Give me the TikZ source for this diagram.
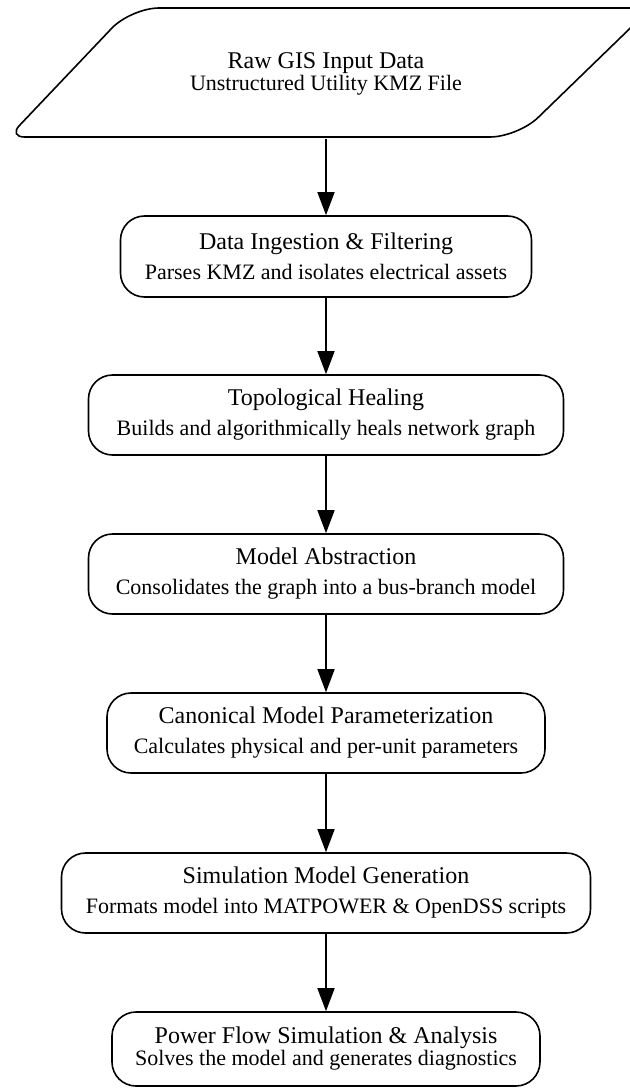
\documentclass[tikz,border=0pt]{standalone}
\usepackage{fontspec}
\setmainfont{Liberation Serif}
\usetikzlibrary{arrows.meta}

\begin{document}
\begin{tikzpicture}[x=1pt,y=-1pt,
  stage/.style={draw, line width=1.6pt, rounded corners=24pt, align=center,
                inner sep=0pt, font=\fontsize{24}{30}\selectfont},
  tight/.style={font=\fontsize{24}{22}\selectfont},
  flow/.style={-{Triangle[length=23pt,width=17pt]}, line width=1.6pt},
]
\useasboundingbox (0,0) rectangle (629,1089);

% input data parallelogram
\coordinate (bl) at (8.5,137);
\coordinate (tl) at (131,8);
\coordinate (tr) at (651,8);
\coordinate (br) at (518,137);
\draw[line width=1.6pt] (300,137) [rounded corners=28pt] -- (br)
  [rounded corners=18pt] -- (tr) [rounded corners=28pt] -- (tl)
  [rounded corners=16pt] -- (bl) -- cycle;
\node[align=center, inner sep=0pt, minimum width=400pt, minimum height=129pt, tight]
  (raw) at (326,74)
  {Raw GIS Input Data\\{\fontsize{22}{22}\selectfont Unstructured Utility KMZ File}};

% processing stages
\node[stage, minimum width=411pt, minimum height=81pt] (ingest) at (326,256.5)
  {Data Ingestion \& Filtering\\{\fontsize{22}{30}\selectfont Parses KMZ and isolates electrical assets}};
\node[stage, minimum width=475pt, minimum height=80pt] (heal) at (326,415)
  {Topological Healing\\{\fontsize{22}{30}\selectfont Builds and algorithmically heals network graph}};
\node[stage, minimum width=475pt, minimum height=80pt] (abstr) at (326,574)
  {Model Abstraction\\{\fontsize{22}{30}\selectfont Consolidates the graph into a bus-branch model}};
\node[stage, minimum width=438pt, minimum height=80pt] (param) at (326,733)
  {Canonical Model Parameterization\\{\fontsize{22}{30}\selectfont Calculates physical and per-unit parameters}};
\node[stage, minimum width=529pt, minimum height=80pt] (gen) at (326,893)
  {Simulation Model Generation\\{\fontsize{22}{30}\selectfont Formats model into MATPOWER \& OpenDSS scripts}};
\node[stage, tight, minimum width=428pt, minimum height=74pt] (solve) at (326,1049)
  {Power Flow Simulation \& Analysis\\{\fontsize{22}{22}\selectfont Solves the model and generates diagnostics}};

% connectors
\draw[flow] (raw) -- (ingest);
\draw[flow] (ingest) -- (heal);
\draw[flow] (heal) -- (abstr);
\draw[flow] (abstr) -- (param);
\draw[flow] (param) -- (gen);
\draw[flow] (gen) -- (solve);
\end{tikzpicture}
\end{document}
